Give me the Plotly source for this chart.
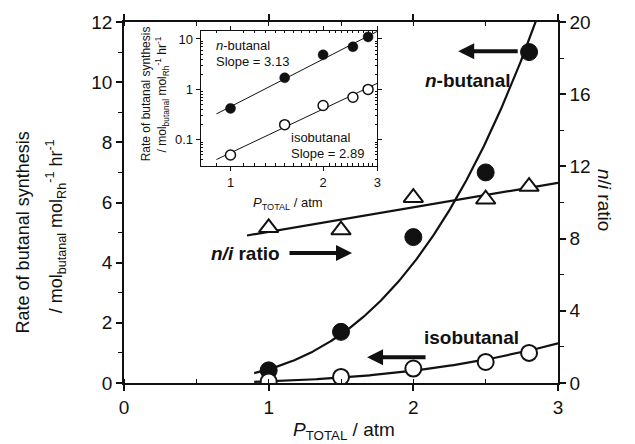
import numpy as np
import plotly.graph_objects as go

# Total pressure (atm) and measured rates / ratios
pressure = [1.0, 1.5, 2.0, 2.5, 2.8]
n_butanal_rate = [0.42, 1.7, 4.85, 7.0, 11.0]     # mol_butanal mol_Rh^-1 hr^-1
isobutanal_rate = [0.05, 0.2, 0.48, 0.7, 1.0]
ni_ratio = [8.6, 8.47, 10.27, 10.18, 10.88]

# Reaction orders from the log-log fits
slope_n = 3.13
slope_iso = 2.89

FONT = "Liberation Sans, Arial, Helvetica, sans-serif"
BLACK = "#111111"


def power_prefactor(x, y, k):
    x = np.asarray(x)
    y = np.asarray(y)
    return float(np.exp(np.mean(np.log(y) - k * np.log(x))))


a_n = power_prefactor(pressure, n_butanal_rate, slope_n)
a_iso = power_prefactor(pressure, isobutanal_rate, slope_iso)
ni_fit = np.polyfit(pressure, ni_ratio, 1)

p_curve = np.linspace(0.9, 3.0, 300)
n_curve = a_n * p_curve ** slope_n
iso_curve = a_iso * p_curve ** slope_iso
p_line = np.linspace(0.85, 3.0, 2)
ni_line = np.polyval(ni_fit, p_line)

fig = go.Figure()

# ---- main panel: rates (left axis) ----
fig.add_trace(go.Scatter(x=p_curve, y=n_curve, mode="lines",
                         line=dict(color=BLACK, width=2.2), xaxis="x", yaxis="y"))
fig.add_trace(go.Scatter(x=p_curve, y=iso_curve, mode="lines",
                         line=dict(color=BLACK, width=2.2), xaxis="x", yaxis="y"))
fig.add_trace(go.Scatter(x=pressure, y=n_butanal_rate, mode="markers",
                         marker=dict(symbol="circle", size=17, color=BLACK,
                                     line=dict(color=BLACK, width=1)),
                         xaxis="x", yaxis="y"))
fig.add_trace(go.Scatter(x=pressure, y=isobutanal_rate, mode="markers",
                         marker=dict(symbol="circle", size=16, color="white",
                                     line=dict(color=BLACK, width=2)),
                         xaxis="x", yaxis="y"))

# ---- main panel: n/i ratio (right axis) ----
fig.add_trace(go.Scatter(x=p_line, y=ni_line, mode="lines",
                         line=dict(color=BLACK, width=2.2), xaxis="x", yaxis="y3"))
fig.add_trace(go.Scatter(x=pressure, y=ni_ratio, mode="markers",
                         marker=dict(symbol="triangle-up", size=17, color="white",
                                     line=dict(color=BLACK, width=2)),
                         xaxis="x", yaxis="y3"))

# ---- inset: log-log plot ----
fig.add_trace(go.Scatter(x=p_curve, y=n_curve, mode="lines",
                         line=dict(color=BLACK, width=1), xaxis="x2", yaxis="y2"))
fig.add_trace(go.Scatter(x=p_curve, y=iso_curve, mode="lines",
                         line=dict(color=BLACK, width=1), xaxis="x2", yaxis="y2"))
fig.add_trace(go.Scatter(x=pressure, y=n_butanal_rate, mode="markers",
                         marker=dict(symbol="circle", size=10, color=BLACK,
                                     line=dict(color=BLACK, width=0.5)),
                         xaxis="x2", yaxis="y2"))
fig.add_trace(go.Scatter(x=pressure, y=isobutanal_rate, mode="markers",
                         marker=dict(symbol="circle", size=10, color="white",
                                     line=dict(color=BLACK, width=1.5)),
                         xaxis="x2", yaxis="y2"))

axis_common = dict(showgrid=False, zeroline=False, showline=True,
                   linecolor=BLACK, linewidth=1.5, tickcolor=BLACK,
                   tickfont=dict(family=FONT, size=19, color=BLACK))

inset_x_minor = [0.8, 0.9] + [round(1 + 0.1 * i, 1) for i in range(1, 10)] + \
                [round(2 + 0.1 * i, 1) for i in range(1, 10)]
inset_y_minor = [m * 10.0 ** e for e in (-2, -1, 0, 1) for m in range(2, 10)]

fig.update_layout(
    width=635, height=444,
    margin=dict(l=124, r=77, t=22, b=61),
    paper_bgcolor="white", plot_bgcolor="white",
    showlegend=False,
    font=dict(family=FONT, color=BLACK),
    xaxis=dict(axis_common, domain=[0, 1], range=[0, 3], anchor="y",
               tickvals=[0, 1, 2, 3], ticks="outside", ticklen=6, tickwidth=1.5,
               minor=dict(dtick=0.5, ticks="inside", ticklen=4, tickwidth=1.2,
                          tickcolor=BLACK),
               mirror="ticks"),
    yaxis=dict(axis_common, domain=[0, 1], range=[0, 12], anchor="x",
               tickvals=[0, 2, 4, 6, 8, 10, 12], ticks="outside", ticklen=6,
               tickwidth=1.5,
               minor=dict(dtick=1, ticks="outside", ticklen=4, tickwidth=1.2,
                          tickcolor=BLACK)),
    yaxis3=dict(axis_common, overlaying="y", side="right", range=[0, 20],
                anchor="x", tickvals=[0, 4, 8, 12, 16, 20], ticks="outside",
                ticklen=6, tickwidth=1.5,
                minor=dict(dtick=2, ticks="outside", ticklen=4, tickwidth=1.2,
                           tickcolor=BLACK)),
    xaxis2=dict(showgrid=False, zeroline=False, showline=True, linecolor=BLACK,
                linewidth=1.2, type="log", domain=[0.1767, 0.5836],
                range=[np.log10(0.8), np.log10(3)], anchor="y2",
                tickvals=[1, 2, 3], ticktext=["1", "2", "3"],
                ticks="outside", ticklen=4, tickwidth=1, tickcolor=BLACK,
                tickfont=dict(family=FONT, size=13, color=BLACK),
                minor=dict(tickvals=inset_x_minor, ticks="inside", ticklen=2.5,
                           tickwidth=0.8, tickcolor=BLACK),
                mirror="allticks"),
    yaxis2=dict(showgrid=False, zeroline=False, showline=True, linecolor=BLACK,
                linewidth=1.2, type="log", domain=[0.601, 0.976],
                range=[-1.52, 1.165], anchor="x2",
                tickvals=[0.1, 1, 10], ticktext=["0.1", "1", "10"],
                ticks="outside", ticklen=4, tickwidth=1, tickcolor=BLACK,
                tickfont=dict(family=FONT, size=13, color=BLACK),
                minor=dict(tickvals=inset_y_minor, ticks="inside", ticklen=2.5,
                           tickwidth=0.8, tickcolor=BLACK),
                mirror="allticks"),
)

ann = []


def text_ann(text, x, y, size, xref="paper", yref="paper", angle=0,
             xanchor="center", yanchor="middle"):
    ann.append(dict(text=text, x=x, y=y, xref=xref, yref=yref, showarrow=False,
                    textangle=angle, xanchor=xanchor, yanchor=yanchor,
                    font=dict(family=FONT, size=size, color=BLACK)))


def arrow_ann(x, y, ax, yref="y"):
    ann.append(dict(text="", x=x, y=y, xref="x", yref=yref, ax=ax, ay=0,
                    showarrow=True, arrowhead=2, arrowsize=0.8, arrowwidth=4,
                    arrowcolor=BLACK, standoff=0, startstandoff=0))


# main axis titles
text_ann("Rate of butanal synthesis", -0.232, 0.418, 18, angle=-90)
text_ann("/ mol<sub>butanal</sub> mol<sub>Rh</sub><sup>-1</sup> hr<sup>-1</sup>",
         -0.156, 0.435, 18, angle=-90)
text_ann("<i>n</i>/<i>i</i> ratio", 1.106, 0.507, 19, angle=90)
text_ann("<i>P</i><sub>TOTAL</sub> / atm", 0.507, -0.133, 19)

# curve labels and arrows
text_ann("<b><i>n</i>-butanal</b>", 2.378, 10.07, 19, xref="x", yref="y")
arrow_ann(2.31, 11.03, 61)
text_ann("<b>isobutanal</b>", 2.40, 1.5, 19, xref="x", yref="y")
arrow_ann(1.68, 0.86, 60)
text_ann("<b><i>n/i</i> ratio</b>", 0.84, 4.32, 19, xref="x", yref="y")
arrow_ann(1.576, 4.32, -64)

# inset labels
text_ann("Rate of butanal synthesis", 0.051, 0.80, 12, angle=-90)
text_ann("/ mol<sub>butanal</sub> mol<sub>Rh</sub><sup>-1</sup> hr<sup>-1</sup>",
         0.088, 0.80, 12, angle=-90)
text_ann("<i>P</i><sub>TOTAL</sub> / atm", 0.378, 0.497, 13)
text_ann("<i>n</i>-butanal", 0.075, 0.894, 13, xref="x2 domain",
         yref="y2 domain", xanchor="left")
text_ann("Slope = 3.13", 0.075, 0.769, 13, xref="x2 domain",
         yref="y2 domain", xanchor="left")
text_ann("isobutanal", 0.5, 0.214, 13, xref="x2 domain",
         yref="y2 domain", xanchor="left")
text_ann("Slope = 2.89", 0.5, 0.096, 13, xref="x2 domain",
         yref="y2 domain", xanchor="left")

fig.update_layout(annotations=ann)

fig.write_html("out.html")
